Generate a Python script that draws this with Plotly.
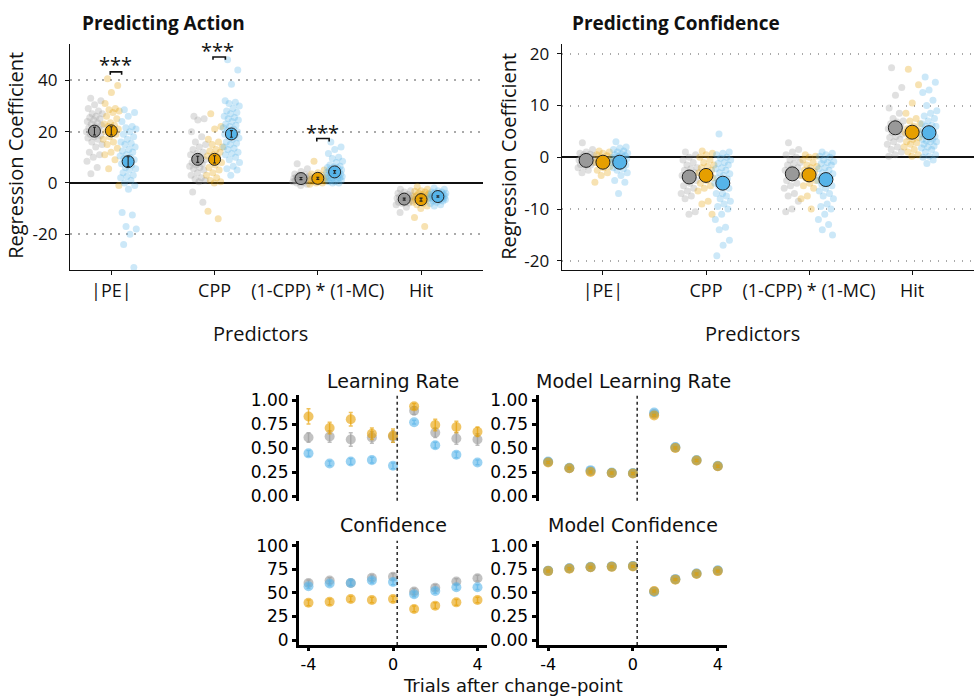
import plotly.graph_objects as go

# ---------------------------------------------------------------------------
# Data
# ---------------------------------------------------------------------------
PREDICTORS = ["|PE|", "CPP", "(1-CPP) * (1-MC)", "Hit"]

# Individual regression coefficients, "Predicting Action"
ACT_PE_GREY = [33, 32, 30.5, 29, 28, 27, 27, 26, 25.5, 25, 24.5, 24, 23.5, 23, 22.5, 22, 21.5,
               21, 20.5, 20, 19.5, 19, 18.5, 18, 17.5, 17, 16, 15, 14, 12, 11, 10, 8.5, 6, 3.6]
ACT_PE_ORANGE = [40.6, 38, 35.3, 31, 29, 28.5, 28, 27.5, 26, 25, 23.5, 23, 22.5, 22, 21, 20.5,
                 20, 19, 18, 17, 16, 15, 13.5, 12, 11, 9, 5.5, -1]
ACT_PE_BLUE = [28.5, 27.5, 26, 24, 22, 21.5, 21, 20, 19, 18, 17, 16, 15.5, 15, 14, 13, 12.5, 12,
               11, 10.5, 10, 9.5, 9, 8, 7.5, 7, 6, 5.5, 5, 4, 3, 2.5, 2, 1, 0, -1, -2.5, -11.5,
               -12.5, -17, -18, -20, -24, -33]
ACT_CPP_GREY = [26, 25, 24.5, 20, 18, 16, 15, 14, 13, 12, 11.5, 11, 10, 9.5, 9, 8.5, 8, 7.5, 7,
                6.5, 6, 5.5, 5, 4, 3, 2, 1.5, 1, 0.5, -3.5, -7.5]
ACT_CPP_ORANGE = [27, 22, 21, 17, 16, 15, 14, 13, 12.5, 12, 11, 10.5, 10, 9, 8, 7, 6, 5, 4, 3, 2,
                  1, 0.5, 0, -11, -14]
ACT_CPP_BLUE = [48, 44, 38.5, 32, 31.5, 31, 30, 29, 28, 27.5, 27, 26, 25.5, 25, 24.5, 24, 23,
                22.5, 22, 21.5, 21, 20.5, 20, 19.5, 19, 18.5, 18, 17.5, 17, 16, 15.5, 15, 14,
                13.5, 13, 12, 11.5, 11, 10, 9, 8, 6.5, 5.5, 5, 3]
ACT_INT_GREY = [7.5, 5.5, 4.5, 3.5, 3.2, 3, 2.8, 2.5, 2.2, 2, 2, 1.8, 1.5, 1.5, 1.2, 1, 1, 0.8,
                0.5, 0.5, 0.2, 0, -0.5, -1]
ACT_INT_ORANGE = [8.5, 5, 4, 3.5, 3, 2.5, 2.2, 2, 1.8, 1.5, 1.5, 1.2, 1, 1, 0.8, 0.5, 0.5, 0, 0,
                  -0.5]
ACT_INT_BLUE = [16, 14, 13, 11.5, 10, 9.5, 8.5, 8, 7, 6.5, 6.2, 6, 5.8, 5.5, 5, 5, 4.8, 4.5,
                4.2, 4, 4, 3.8, 3.5, 3.5, 3, 3, 2.8, 2.5, 2.5, 2, 2, 1.8, 1.5, 1.5, 1, 1, 0.5,
                0.5, 0, 0]
ACT_HIT_GREY = [-2.5, -3, -3.5, -4, -4.5, -4.8, -5, -5, -5.5, -5.8, -6, -6, -6.5, -6.8, -7, -7,
                -7.5, -7.8, -8, -8.5, -9.5, -11.5]
ACT_HIT_ORANGE = [-1.5, -2.5, -3, -3.2, -3.5, -4, -4.2, -4.5, -5, -5, -5.2, -5.5, -5.5, -6,
                  -6, -6.2, -6.5, -7, -7, -7.5, -8, -8.5, -9, -10, -13.5, -17]
ACT_HIT_BLUE = [-2, -2.5, -3, -3.5, -3.5, -3.8, -4, -4, -4.2, -4.5, -4.5, -4.6, -4.8, -5, -5,
                -5, -5.2, -5.4, -5.5, -5.5, -5.6, -5.8, -6, -6, -6, -6.2, -6.5, -6.5, -6.8, -7,
                -7, -7.5, -8, -8.5, -9]

ACT_MEAN_GREY = [20.2, 9.2, 1.7, -6.3]
ACT_MEAN_ORANGE = [20.3, 9.2, 1.8, -6.5]
ACT_MEAN_BLUE = [8.3, 19.1, 4.3, -5.3]
ACT_SE_GREY = [1.5, 1.2, 0.4, 0.4]
ACT_SE_ORANGE = [1.6, 1.4, 0.4, 0.6]
ACT_SE_BLUE = [1.9, 1.3, 0.5, 0.3]

# Individual regression coefficients, "Predicting Confidence"
CONF_PE_GREY = [2.8, 1.5, 1, 0.8, 0.6, 0.5, 0.3, 0.2, 0, -0.2, -0.3, -0.5, -0.7, -0.8, -1,
                -1.2, -1.4, -1.5, -1.8, -2, -2.5, -3]
CONF_PE_ORANGE = [1.2, 1, 0.8, 0.5, 0.3, 0, -0.2, -0.3, -0.5, -0.6, -0.8, -1, -1.2, -1.5, -1.8,
                  -2, -2.5, -3, -3.5, -4.8]
CONF_PE_BLUE = [3, 2, 1.8, 1.5, 1.2, 1, 0.8, 0.6, 0.5, 0.3, 0.2, 0, 0, -0.2, -0.3, -0.5, -0.6,
                -0.8, -1, -1, -1.2, -1.4, -1.5, -1.8, -2, -2.2, -2.5, -3, -3.5, -4.5, -4.8, -7]
CONF_CPP_GREY = [1, 0.5, 0, -0.5, -1, -1.5, -2, -2.2, -2.5, -3, -3.2, -3.5, -4, -4.2, -4.5, -5,
                 -5.5, -6, -6.5, -7, -7.5, -8, -10.5, -11]
CONF_CPP_ORANGE = [1.2, 0.8, 0.5, 0, -0.5, -1, -1.5, -1.8, -2, -2.5, -2.8, -3, -3.5, -3.8, -4,
                   -4.5, -5, -5.5, -6, -6.5, -8.5, -9, -11]
CONF_CPP_BLUE = [4.5, 1, 0.8, 0.5, 0, -0.2, -0.5, -1, -1.2, -1.5, -2, -2.2, -2.5, -3, -3.2,
                 -3.5, -4, -4.2, -4.5, -5, -5.2, -5.5, -6, -7, -7, -7.5, -8, -8.5, -9, -9.5,
                 -10, -11, -12, -13.5, -14, -16, -17, -19]
CONF_INT_GREY = [2.8, 1.5, 1, 0.5, 0, -0.5, -1, -1.2, -1.5, -2, -2.2, -2.5, -3, -3.2, -3.5, -4,
                 -4.5, -5, -5.5, -6, -7, -7.5, -8.5, -10, -10.5]
CONF_INT_ORANGE = [0.5, 0.2, 0, -0.5, -1, -1.5, -1.8, -2, -2.5, -2.8, -3, -3.5, -3.8, -4, -4.5,
                   -5, -5.5, -6, -7.5, -8, -10]
CONF_INT_BLUE = [1, 0.8, 0.5, 0.2, 0, -0.5, -0.8, -1, -1.2, -1.5, -2, -2.2, -2.5, -3, -3.2,
                 -3.5, -3.8, -4, -4.2, -4.5, -5, -5.2, -5.5, -6, -6.5, -7, -7.5, -8, -9, -9.5,
                 -10, -11, -12, -13, -14, -15]
CONF_HIT_GREY = [17.3, 13.5, 12, 9.5, 8.5, 7.5, 7, 6.8, 6.5, 6, 5.8, 5.5, 5, 4.8, 4.5, 4, 3.8,
                 3.5, 3, 2.5, 2, 1.5, 1, 0.5, 0.2]
CONF_HIT_ORANGE = [17, 14, 10.5, 8.5, 7.5, 7, 6.5, 6, 5.5, 5.2, 5, 4.8, 4.5, 4, 3.8, 3.5, 3,
                   2.8, 2.5, 2, 1.5, 1, 0.5, 0.2]
CONF_HIT_BLUE = [15.5, 14.5, 13, 12.5, 11, 10, 9, 8.5, 8, 7.5, 7, 6.5, 6.2, 6, 6, 5.5, 5.2, 5,
                 5, 4.5, 4.5, 4.2, 4, 4, 3.5, 3.5, 3.2, 3, 3, 2.5, 2.2, 2, 1.8, 1.5, 1, 0.5,
                 0.2, 0, -0.5, -1.2]

CONF_MEAN_GREY = [-0.6, -3.8, -3.2, 5.7]
CONF_MEAN_ORANGE = [-0.95, -3.5, -3.4, 4.85]
CONF_MEAN_BLUE = [-0.95, -5.0, -4.3, 4.75]
CONF_SE_GREY = [0.3, 0.6, 0.6, 0.7]
CONF_SE_ORANGE = [0.3, 0.6, 0.6, 0.7]
CONF_SE_BLUE = [0.3, 0.6, 0.5, 0.5]

# Trial-wise time courses around the change-point
TRIALS = [-4, -3, -2, -1, 0, 1, 2, 3, 4]

LR_GREY = [0.61, 0.62, 0.59, 0.61, 0.62, 0.89, 0.66, 0.60, 0.59]
LR_ORANGE = [0.83, 0.71, 0.80, 0.65, 0.63, 0.935, 0.74, 0.72, 0.67]
LR_BLUE = [0.445, 0.34, 0.36, 0.375, 0.315, 0.77, 0.53, 0.43, 0.35]
LR_SE_GREY = [0.05, 0.06, 0.07, 0.06, 0.06, 0.04, 0.05, 0.06, 0.06]
LR_SE_ORANGE = [0.08, 0.06, 0.07, 0.06, 0.07, 0.03, 0.06, 0.06, 0.05]
LR_SE_BLUE = [0.03, 0.025, 0.03, 0.03, 0.03, 0.02, 0.03, 0.03, 0.025]

MLR_GREY = [0.355, 0.29, 0.26, 0.24, 0.235, 0.855, 0.505, 0.37, 0.31]
MLR_ORANGE = [0.35, 0.29, 0.25, 0.24, 0.235, 0.84, 0.50, 0.37, 0.31]
MLR_BLUE = [0.36, 0.295, 0.27, 0.245, 0.24, 0.87, 0.51, 0.375, 0.315]
MLR_SE = [0.01, 0.01, 0.01, 0.01, 0.01, 0.01, 0.01, 0.01, 0.01]

CF_GREY = [60.5, 63, 60.5, 66, 67, 51.5, 55.5, 62, 65.5]
CF_ORANGE = [39.5, 40.5, 43.5, 42.5, 43.5, 33, 36.5, 40, 42.5]
CF_BLUE = [57, 60, 60.5, 63, 61.5, 48.5, 52, 56, 56]
CF_SE_GREY = [3, 3, 3, 3, 3.5, 3, 3, 3, 3]
CF_SE_ORANGE = [3, 3, 3, 3, 3, 3, 3, 3, 3]
CF_SE_BLUE = [2.5, 2.5, 2.5, 2.5, 3, 2.5, 2.5, 2.5, 2.5]

MCF_GREY = [0.735, 0.76, 0.77, 0.78, 0.785, 0.515, 0.645, 0.705, 0.735]
MCF_ORANGE = [0.73, 0.755, 0.77, 0.775, 0.78, 0.52, 0.64, 0.70, 0.73]
MCF_BLUE = [0.735, 0.76, 0.775, 0.78, 0.785, 0.51, 0.645, 0.705, 0.74]
MCF_SE = [0.01, 0.01, 0.01, 0.01, 0.01, 0.01, 0.01, 0.01, 0.01]

# ---------------------------------------------------------------------------
# Styling
# ---------------------------------------------------------------------------
GREY, ORANGE, BLUE = "#999999", "#E69F00", "#56B4E9"
GROUP_COLORS = [GREY, ORANGE, BLUE]
TOP_FONT = "Open Sans"
BOTTOM_FONT = "DejaVu Sans"
INK = "#111111"
W, H = 974, 700
DODGE = [-0.163, 0.0, 0.163]


def rgba(hex_color, alpha):
    h = hex_color.lstrip("#")
    r, g, b = int(h[0:2], 16), int(h[2:4], 16), int(h[4:6], 16)
    return f"rgba({r},{g},{b},{alpha})"


def jitter(n, width=0.08):
    # low-discrepancy spread so the cloud looks like a jittered strip
    return [(((i * 0.6180339887) + 0.27) % 1.0 - 0.5) * 2 * width for i in range(n)]


def px_x(px):
    return px / W


def px_y(py):
    return 1 - py / H


def merged(*parts, **extra):
    out = {}
    for p in parts:
        out.update(p)
    out.update(extra)
    return out


fig = go.Figure()


def add_coef_panel(xa, ya, clouds, means, ses, mean_size, bars_on_top):
    for pi, groups in enumerate(clouds):
        for gi, vals in enumerate(groups):
            xs = [pi + 1 + DODGE[gi] + d for d in jitter(len(vals))]
            fig.add_trace(go.Scatter(
                x=xs, y=vals, mode="markers", xaxis=xa, yaxis=ya,
                marker=dict(color=rgba(GROUP_COLORS[gi], 0.3), size=7, line_width=0),
                hoverinfo="skip", showlegend=False))
    for gi in range(3):
        xs = [p + 1 + DODGE[gi] for p in range(len(PREDICTORS))]
        bars = go.Scatter(
            x=xs, y=means[gi], mode="markers", xaxis=xa, yaxis=ya,
            marker=dict(size=1, color="rgba(0,0,0,0)"),
            error_y=dict(type="data", array=ses[gi], color="#222222", thickness=1.1, width=1.5),
            hoverinfo="skip", showlegend=False)
        dots = go.Scatter(
            x=xs, y=means[gi], mode="markers", xaxis=xa, yaxis=ya,
            marker=dict(color=GROUP_COLORS[gi], size=mean_size,
                        line=dict(color="#222222", width=1)),
            showlegend=False)
        if bars_on_top:
            fig.add_trace(dots)
            fig.add_trace(bars)
        else:
            fig.add_trace(bars)
            fig.add_trace(dots)


add_coef_panel(
    "x", "y",
    [[ACT_PE_GREY, ACT_PE_ORANGE, ACT_PE_BLUE],
     [ACT_CPP_GREY, ACT_CPP_ORANGE, ACT_CPP_BLUE],
     [ACT_INT_GREY, ACT_INT_ORANGE, ACT_INT_BLUE],
     [ACT_HIT_GREY, ACT_HIT_ORANGE, ACT_HIT_BLUE]],
    [ACT_MEAN_GREY, ACT_MEAN_ORANGE, ACT_MEAN_BLUE],
    [ACT_SE_GREY, ACT_SE_ORANGE, ACT_SE_BLUE], 12, True)

add_coef_panel(
    "x2", "y2",
    [[CONF_PE_GREY, CONF_PE_ORANGE, CONF_PE_BLUE],
     [CONF_CPP_GREY, CONF_CPP_ORANGE, CONF_CPP_BLUE],
     [CONF_INT_GREY, CONF_INT_ORANGE, CONF_INT_BLUE],
     [CONF_HIT_GREY, CONF_HIT_ORANGE, CONF_HIT_BLUE]],
    [CONF_MEAN_GREY, CONF_MEAN_ORANGE, CONF_MEAN_BLUE],
    [CONF_SE_GREY, CONF_SE_ORANGE, CONF_SE_BLUE], 14, False)


def add_course(xa, ya, series):
    # drawn grey, blue, orange so orange sits on top
    for vals, err, color in series:
        fig.add_trace(go.Scatter(
            x=TRIALS, y=vals, mode="markers", xaxis=xa, yaxis=ya,
            marker=dict(color=rgba(color, 0.6), size=10, line_width=0),
            error_y=dict(type="data", array=err, color=rgba(color, 0.65), thickness=1.5,
                         width=2),
            showlegend=False))


add_course("x3", "y3", [(LR_GREY, LR_SE_GREY, GREY), (LR_BLUE, LR_SE_BLUE, BLUE),
                        (LR_ORANGE, LR_SE_ORANGE, ORANGE)])
add_course("x4", "y4", [(MLR_GREY, MLR_SE, GREY), (MLR_BLUE, MLR_SE, BLUE),
                        (MLR_ORANGE, MLR_SE, ORANGE)])
add_course("x5", "y5", [(CF_GREY, CF_SE_GREY, GREY), (CF_BLUE, CF_SE_BLUE, BLUE),
                        (CF_ORANGE, CF_SE_ORANGE, ORANGE)])
add_course("x6", "y6", [(MCF_GREY, MCF_SE, GREY), (MCF_BLUE, MCF_SE, BLUE),
                        (MCF_ORANGE, MCF_SE, ORANGE)])

# ---------------------------------------------------------------------------
# Axes
# ---------------------------------------------------------------------------
top_x = dict(range=[0.6, 4.6], tickvals=[1, 2, 3, 4], ticktext=PREDICTORS,
             showline=True, linecolor=INK, linewidth=1.3, ticks="outside", ticklen=4,
             tickcolor=INK, tickwidth=1.1, showgrid=False, zeroline=False,
             tickfont=dict(family=TOP_FONT, size=18, color=INK))
top_y = dict(showline=True, linecolor=INK, linewidth=1.3, ticks="outside", ticklen=4,
             tickcolor=INK, tickwidth=1.1, showgrid=True, griddash="1.5px,6.5px",
             gridcolor="#aaaaaa", gridwidth=1.6, zeroline=True, zerolinecolor=INK,
             zerolinewidth=1.5, tickfont=dict(family=TOP_FONT, size=17, color=INK),
             ticklabelstandoff=4)

top_dom_y = [px_y(269), px_y(40)]
fig.update_layout(
    xaxis=merged(top_x, domain=[px_x(70), px_x(483)], anchor="y"),
    yaxis=merged(top_y, domain=top_dom_y, anchor="x", range=[-34, 54],
                 tickvals=[-20, 0, 20, 40], ticktext=["-20", "0", "20", "40"]),
    xaxis2=merged(top_x, domain=[px_x(561.7), 1.0], anchor="y2"),
    yaxis2=merged(top_y, domain=top_dom_y, anchor="x2", range=[-21.8, 21.8],
                  tickvals=[-20, -10, 0, 10, 20], ticktext=["-20", "-10", "0", "10", "20"]),
)

bot_y_common = dict(showline=True, linecolor="black", linewidth=3, ticks="outside", ticklen=4,
                    tickcolor="black", tickwidth=2.5, showgrid=False, zeroline=False,
                    tickfont=dict(family=BOTTOM_FONT, size=17, color="black"))
prop_ticks = dict(range=[-0.05, 1.05], tickvals=[0, 0.25, 0.5, 0.75, 1],
                  ticktext=["0.00", "0.25", "0.50", "0.75", "1.00"])
hidden_x = dict(range=[-4.45, 4.45], showline=False, showticklabels=False, ticks="",
                showgrid=False, zeroline=False)
shown_x = dict(range=[-4.45, 4.45], showline=True, linecolor="black", linewidth=3,
               ticks="outside", ticklen=3, tickcolor="black", tickwidth=2.5,
               tickvals=[-4, 0, 4], ticktext=["-4", "0", "4"], showgrid=False, zeroline=False,
               tickfont=dict(family=BOTTOM_FONT, size=16, color="black"))

left_dom = [px_x(299), px_x(487)]
right_dom = [px_x(538.6), px_x(727.3)]
upper_dom = [px_y(503), px_y(396)]
lower_dom = [px_y(649.2), px_y(543.6)]

fig.update_layout(
    xaxis3=merged(hidden_x, domain=left_dom, anchor="y3"),
    yaxis3=merged(bot_y_common, prop_ticks, domain=upper_dom, anchor="x3"),
    xaxis4=merged(hidden_x, domain=right_dom, anchor="y4"),
    yaxis4=merged(bot_y_common, prop_ticks, domain=upper_dom, anchor="x4"),
    xaxis5=merged(shown_x, domain=left_dom, anchor="y5"),
    yaxis5=merged(bot_y_common, domain=lower_dom, anchor="x5", range=[-5, 105],
                  tickvals=[0, 25, 50, 75, 100], ticktext=["0", "25", "50", "75", "100"]),
    xaxis6=merged(shown_x, domain=right_dom, anchor="y6"),
    yaxis6=merged(bot_y_common, prop_ticks, domain=lower_dom, anchor="x6"),
)

# ---------------------------------------------------------------------------
# Shapes: change-point markers and significance brackets
# ---------------------------------------------------------------------------
shapes = []
for i in (3, 4, 5, 6):
    shapes.append(dict(type="line", xref=f"x{i}", yref=f"y{i} domain", x0=0.2, x1=0.2,
                       y0=0, y1=1, line=dict(color="#333333", width=1.6, dash="dot")))

BRACKETS = [(0.99, 1.10, 43.3, 42.2), (1.985, 2.105, 49.1, 48.0), (2.99, 3.11, 17.3, 16.2)]
for x0, x1, ytop, ybot in BRACKETS:
    shapes.append(dict(type="path", xref="x", yref="y",
                       path=f"M {x0},{ybot} L {x0},{ytop} L {x1},{ytop} L {x1},{ybot}",
                       line=dict(color=INK, width=1.6)))
fig.update_layout(shapes=shapes)

# ---------------------------------------------------------------------------
# Text
# ---------------------------------------------------------------------------
ann = []
STAR_POS = [(1.045, 46.0), (2.03, 51.7), (3.05, 19.6)]
for sx, sy in STAR_POS:
    ann.append(dict(x=sx, y=sy, xref="x", yref="y", text="***", showarrow=False,
                    font=dict(family=TOP_FONT, size=20, color=INK)))


def paper_text(text, x, y, size, family, bold=False, angle=0, xanchor="center"):
    ann.append(dict(x=x, y=y, xref="paper", yref="paper", text=text, showarrow=False,
                    textangle=angle, xanchor=xanchor, yanchor="middle",
                    font=dict(family=family, size=size, color=INK,
                              weight="bold" if bold else "normal")))


paper_text("Predicting Action", px_x(80), px_y(18), 19, TOP_FONT, bold=True, xanchor="left")
paper_text("Predicting Confidence", px_x(570), px_y(18), 19, TOP_FONT, bold=True,
           xanchor="left")
paper_text("Regression Coefficient", px_x(16), px_y(153), 20, TOP_FONT, angle=-90)
paper_text("Regression Coefficient", px_x(509), px_y(153), 20, TOP_FONT, angle=-90)
paper_text("Predictors", px_x(260), px_y(333), 20, TOP_FONT)
paper_text("Predictors", px_x(752), px_y(333), 20, TOP_FONT)

paper_text("Learning Rate", px_x(393), px_y(381), 19, BOTTOM_FONT)
paper_text("Model Learning Rate", px_x(633), px_y(381), 19, BOTTOM_FONT)
paper_text("Confidence", px_x(393), px_y(528), 19, BOTTOM_FONT)
paper_text("Model Confidence", px_x(633), px_y(528), 19, BOTTOM_FONT)
paper_text("Trials after change-point", px_x(513), px_y(690), 18, BOTTOM_FONT)

fig.update_layout(
    annotations=ann,
    width=W, height=H,
    margin=dict(l=0, r=0, t=0, b=0),
    paper_bgcolor="white", plot_bgcolor="white",
    showlegend=False,
)

fig.write_html("out.html")
